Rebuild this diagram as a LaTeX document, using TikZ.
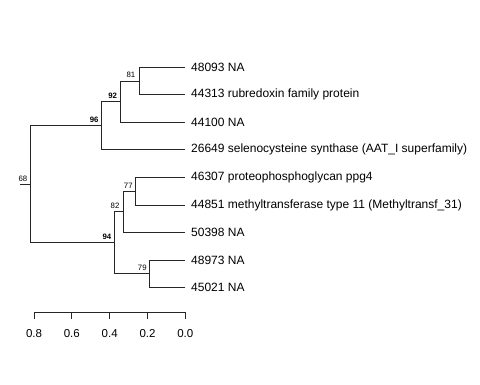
\documentclass[tikz,border=0pt]{standalone}
\usepackage{fontspec}
\setmainfont{Liberation Sans}
\begin{document}
\begin{tikzpicture}[x=1pt,y=-1pt,
  edge/.style={draw=black!85,line width=0.8pt},
  tiplab/.style={anchor=west,inner sep=0pt,font=\fontsize{12}{12}\selectfont},
  nlab/.style={anchor=base east,inner sep=0pt,font=\fontsize{7.8}{8}\selectfont},
  blab/.style={nlab,font=\fontsize{7.8}{8}\selectfont\bfseries},
  axlab/.style={anchor=center,inner sep=0pt,font=\fontsize{11.5}{12}\selectfont}]
\useasboundingbox (0,0) rectangle (480,384);
% leaves
\coordinate (l1) at (185,67.3);
\coordinate (l2) at (185,94.5);
\coordinate (l3) at (185,122);
\coordinate (l4) at (185,149.5);
\coordinate (l5) at (185,177.3);
\coordinate (l6) at (185,205);
\coordinate (l7) at (185,232.5);
\coordinate (l8) at (185,260);
\coordinate (l9) at (185,287.5);
% internal nodes
\coordinate (n81) at (139.3,80.9);
\coordinate (n92) at (120.3,101.45);
\coordinate (n96) at (101.7,125.5);
\coordinate (n77) at (135.7,191.15);
\coordinate (n82) at (123.3,211.8);
\coordinate (n79) at (149.7,273.75);
\coordinate (n94) at (114.7,242.8);
\coordinate (root) at (30.7,184.1);
\coordinate (stub) at (20,184.1);
% edges
\draw[edge] (stub) -- (root);
\draw[edge] (n96) -| (root) |- (n94);
\draw[edge] (n92) -| (n96) |- (l4);
\draw[edge] (n81) -| (n92) |- (l3);
\draw[edge] (l1) -| (n81) |- (l2);
\draw[edge] (n82) -| (n94) |- (n79);
\draw[edge] (n77) -| (n82) |- (l7);
\draw[edge] (l5) -| (n77) |- (l6);
\draw[edge] (l8) -| (n79) |- (l9);
% tip labels
\node[tiplab] (t1) at (191,67.3) {48093 NA};
\node[tiplab] (t2) at (191,94.5) {44313 rubredoxin family protein};
\node[tiplab] (t3) at (191,122) {44100 NA};
\node[tiplab] (t4) at (191,149.5) {26649 selenocysteine synthase (AAT\_I superfamily)};
\node[tiplab] (t5) at (191,177.3) {46307 proteophosphoglycan ppg4};
\node[tiplab] (t6) at (191,205) {44851 methyltransferase type 11 (Methyltransf\_31)};
\node[tiplab] (t7) at (191,232.5) {50398 NA};
\node[tiplab] (t8) at (191,260) {48973 NA};
\node[tiplab] (t9) at (191,287.5) {45021 NA};
% node labels
\node[nlab] (b81) at (135.5,77.5) {81};
\node[blab] (b92) at (117.2,98.3) {92};
\node[blab] (b96) at (98.7,122.3) {96};
\node[nlab] (b68) at (27.5,181.2) {68};
\node[nlab] (b77) at (132.8,188) {77};
\node[nlab] (b82) at (119.6,208.7) {82};
\node[blab] (b94) at (111.4,239.8) {94};
\node[nlab] (b79) at (146.8,270.7) {79};
% axis
\coordinate (a8) at (34,312.3);
\coordinate (a6) at (71.8,312.3);
\coordinate (a4) at (109.7,312.3);
\coordinate (a2) at (147.5,312.3);
\coordinate (a0) at (185.3,312.3);
\draw[edge] (a8) -- (a0);
\foreach \p in {a8,a6,a4,a2,a0} \draw[edge] (\p) -- ++(0,6.5);
\node[axlab] (x8) at (34,333.3) {0.8};
\node[axlab] (x6) at (71.8,333.3) {0.6};
\node[axlab] (x4) at (109.7,333.3) {0.4};
\node[axlab] (x2) at (147.5,333.3) {0.2};
\node[axlab] (x0) at (185.3,333.3) {0.0};
\end{tikzpicture}
\end{document}
